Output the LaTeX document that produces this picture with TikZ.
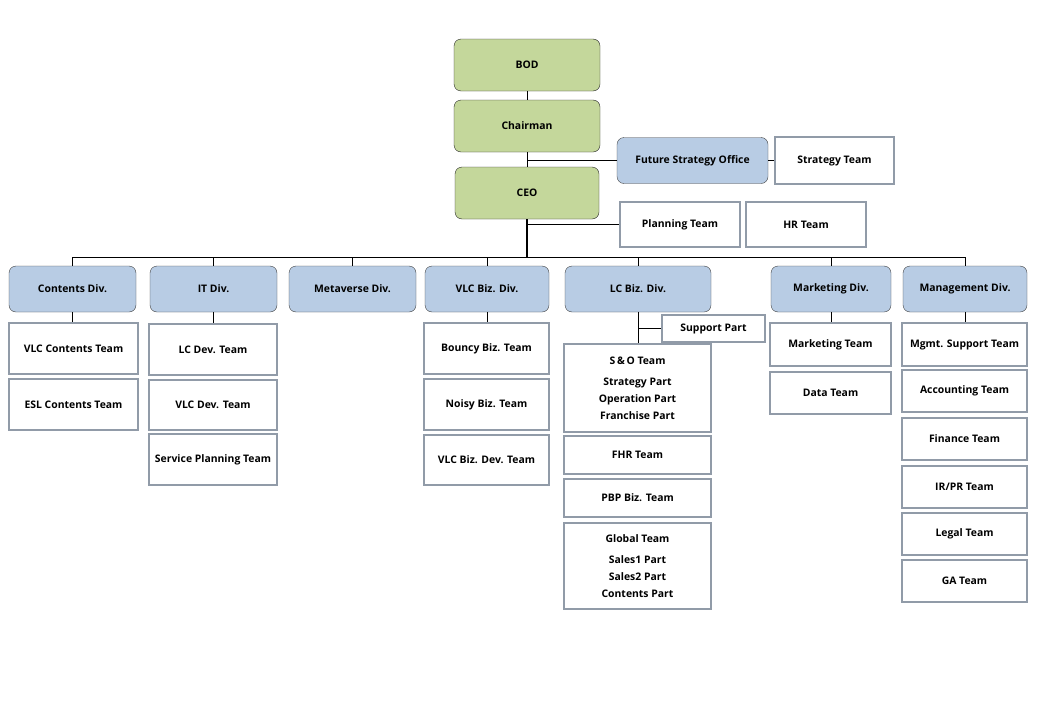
\documentclass[tikz,border=0pt]{standalone}
\usepackage{fontspec}
\setmainfont{Open Sans}
\definecolor{execgreen}{RGB}{196,215,155}
\definecolor{divblue}{RGB}{184,204,228}
\definecolor{teamgray}{RGB}{145,155,168}
\begin{document}
\begin{tikzpicture}
[x=1pt, y=-1pt, inner sep=0pt, font=\fontsize{10.4}{17}\selectfont\bfseries,
 exec/.style={draw=black!85, fill=execgreen, rounded corners=7pt, minimum width=146pt, minimum height=52pt},
 divbox/.style={draw=black!75, fill=divblue, rounded corners=7pt, minimum height=46pt},
 teambox/.style={draw=teamgray, line width=1.2pt, fill=white, align=center}]
\useasboundingbox (0,0) rectangle (1040,720);
\node [exec] (bod) at (527,65) {BOD};
\node [exec] (chair) at (527,126) {Chairman};
\node [exec, minimum width=144pt] (ceo) at (527,193) {CEO};
\node [divbox, minimum width=151pt] (fso) at (692.5,160.5) {Future Strategy Office};
\node [teambox, minimum width=119pt, minimum height=47pt] (strat) at (834.5,160.5) {Strategy Team};
\node [teambox, minimum width=120pt, minimum height=45pt] (plan) at (680,224.5) {Planning Team};
\node [teambox, minimum width=120pt, minimum height=45pt] (hr) at (806,224.5) {HR Team};
\node [divbox, minimum width=127pt] (cont) at (72.5,289) {Contents Div.};
\node [divbox, minimum width=127pt] (it) at (213.5,289) {IT Div.};
\node [divbox, minimum width=127pt] (meta) at (352.5,289) {Metaverse Div.};
\node [divbox, minimum width=124pt] (vlc) at (487,289) {VLC Biz. Div.};
\node [divbox, minimum width=146pt] (lc) at (638,289) {LC Biz. Div.};
\node [divbox, minimum width=120pt] (mkt) at (831,289) {Marketing Div.};
\node [divbox, minimum width=124pt] (mgmt) at (965,289) {Management Div.};
\node [teambox, minimum width=129pt, minimum height=51pt] (vlcc) at (73.5,348.5) {VLC Contents Team};
\node [teambox, minimum width=129pt, minimum height=51pt] (eslc) at (73.5,404.5) {ESL Contents Team};
\node [teambox, minimum width=128pt, minimum height=51pt] (lcdev) at (213,349.5) {LC Dev. Team};
\node [teambox, minimum width=128pt, minimum height=50pt] (vlcdev) at (213,405) {VLC Dev. Team};
\node [teambox, minimum width=128pt, minimum height=51pt] (svc) at (213,459.5) {Service Planning Team};
\node [teambox, minimum width=125pt, minimum height=51pt] (bouncy) at (486.5,348.5) {Bouncy Biz. Team};
\node [teambox, minimum width=125pt, minimum height=51pt] (noisy) at (486.5,404.5) {Noisy Biz. Team};
\node [teambox, minimum width=125pt, minimum height=50pt] (vlcbd) at (486.5,460) {VLC Biz. Dev. Team};
\node [teambox, minimum width=103pt, minimum height=27pt] (sup) at (713.5,328.5) {Support Part};
\node [teambox, minimum width=147pt, minimum height=88pt] (sno) at (637.5,388) {S\,\&\,O Team\\[4pt]Strategy Part\\Operation Part\\Franchise Part};
\node [teambox, minimum width=147pt, minimum height=38pt] (fhr) at (637.5,455) {FHR Team};
\node [teambox, minimum width=147pt, minimum height=38pt] (pbp) at (637.5,498) {PBP Biz. Team};
\node [teambox, minimum width=147pt, minimum height=86pt] (glob) at (637.5,566) {Global Team\\[4pt]Sales1 Part\\Sales2 Part\\Contents Part};
\node [teambox, minimum width=121pt, minimum height=43pt] (mktt) at (830.5,344.5) {Marketing Team};
\node [teambox, minimum width=121pt, minimum height=42pt] (data) at (830.5,393) {Data Team};
\node [teambox, minimum width=125pt, minimum height=43pt] (msup) at (964.5,344.5) {Mgmt. Support Team};
\node [teambox, minimum width=125pt, minimum height=42pt] (acct) at (964.5,391) {Accounting Team};
\node [teambox, minimum width=125pt, minimum height=42pt] (fin) at (964.5,439) {Finance Team};
\node [teambox, minimum width=125pt, minimum height=42pt] (irpr) at (964.5,487) {IR/PR Team};
\node [teambox, minimum width=125pt, minimum height=42pt] (legal) at (964.5,534) {Legal Team};
\node [teambox, minimum width=125pt, minimum height=42pt] (ga) at (964.5,581) {GA Team};
\coordinate (bus) at (527,257);
\draw (bod) -- (chair);
\draw (chair) -- (ceo);
\draw (chair.south |- fso.west) -- (fso.west);
\draw (fso) -- (strat);
\draw (ceo.south |- plan.west) -- (plan.west);
\draw [line width=1.4pt] (ceo.south) -- (bus);
\draw (cont.north |- bus) -- (mgmt.north |- bus);
\foreach \d in {cont,it,meta,vlc,lc,mkt,mgmt}
  \draw (\d.north) -- (\d.north |- bus);
\foreach \d/\t in {cont/vlcc,it/lcdev,vlc/bouncy,lc/sno,mkt/mktt,mgmt/msup}
  \draw (\d.south) -- (\d.south |- \t.north);
\draw (lc.south |- sup.west) -- (sup.west);
\end{tikzpicture}
\end{document}
